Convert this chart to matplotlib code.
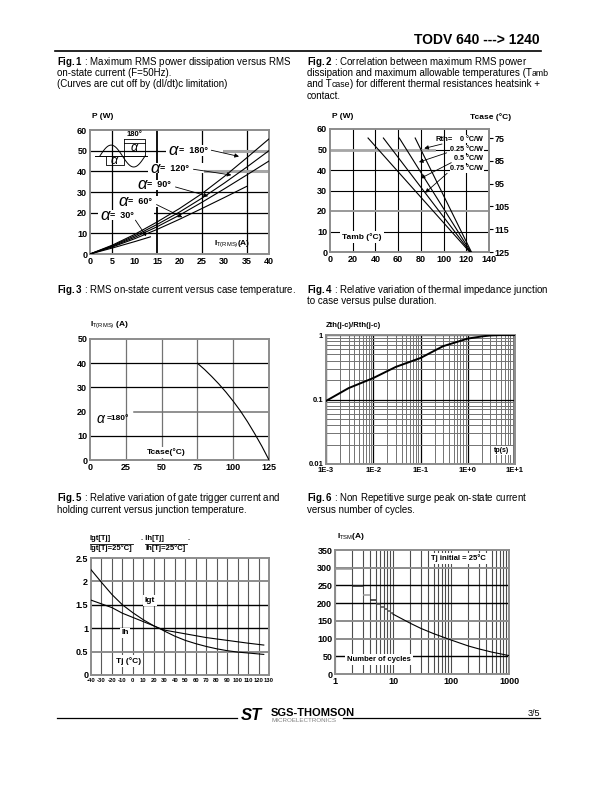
import numpy as np
import matplotlib
matplotlib.use('Agg')
import matplotlib.pyplot as plt
from matplotlib.lines import Line2D
from matplotlib.ticker import LogLocator, NullFormatter

plt.rcParams['font.family'] = ['Liberation Sans', 'DejaVu Sans']
plt.rcParams['mathtext.fontset'] = 'custom'
plt.rcParams['mathtext.rm'] = 'Liberation Sans'
plt.rcParams['mathtext.it'] = 'Liberation Sans:italic'
plt.rcParams['mathtext.bf'] = 'Liberation Sans:bold'

W, H = 612, 792

# Fig.1 : P (W) versus I T(RMS) (A)
i_rms = [0, 5, 10, 15, 20, 25, 30, 35, 40]
p_180 = [0, 4.3, 9.5, 15.5, 22.0, 29.2, 37.5, 46.5, 55.7]
p_120 = [0, 4.0, 8.8, 14.3, 20.3, 27.0, 34.3, 42.0, 50.0]
p_90 = [0, 3.7, 8.1, 13.2, 18.8, 25.0, 31.5, 38.2, 45.0]
i_60 = [0, 5, 10, 15, 20, 25, 30, 35]
p_60 = [0, 3.4, 7.4, 11.9, 16.8, 22.0, 27.3, 32.7]
i_30 = [0, 5, 10, 13.5]
p_30 = [0, 2.9, 6.0, 8.3]
alpha_labels = ['180°', '120°', '90°', '60°', '30°']

# Fig.2 : P (W) versus Tamb, lines for each Rth
rth_labels = ['0 °C/W', '0.25 °C/W', '0.5 °C/W', '0.75 °C/W']
tamb_top = [75, 61, 47, 33.5]
tamb_bottom = [124.5, 124, 123.5, 123]
p_top = 55.6
tcase_ticks = [75, 85, 95, 105, 115, 125]

# Fig.3 : I T(RMS) versus Tcase
tcase = [75, 80, 85, 90, 95, 100, 105, 110, 115, 120, 125]
it_case = [40, 37.4, 34.5, 31.4, 28.0, 24.3, 20.3, 15.8, 10.9, 5.7, 0]

# Fig.4 : Zth/Rth versus tp
tp = [1e-3, 3e-3, 1e-2, 3e-2, 1e-1, 0.3, 1, 2, 3, 5, 10]
zth = [0.095, 0.15, 0.215, 0.32, 0.44, 0.67, 0.88, 0.95, 0.985, 1.0, 1.0]

# Fig.5 : Igt and Ih relative to 25 C
tj = [-40, -30, -20, -10, 0, 10, 20, 25, 30, 40, 50, 60, 70, 80, 90, 100, 110, 125]
igt = [2.25, 1.98, 1.72, 1.50, 1.33, 1.18, 1.05, 1.0, 0.94, 0.83, 0.74, 0.67,
       0.61, 0.56, 0.52, 0.49, 0.47, 0.44]
ih = [1.6, 1.52, 1.44, 1.32, 1.23, 1.14, 1.05, 1.0, 0.96, 0.92, 0.88, 0.84,
      0.80, 0.77, 0.74, 0.71, 0.68, 0.64]

# Fig.6 : ITSM versus number of cycles
n_steps = [1, 2, 3, 4, 5, 6, 7, 8, 9]
itsm_steps = [295, 248, 224, 208, 198, 190, 183, 177, 172]
n_cycles = [10, 20, 30, 50, 100, 200, 300, 500, 1000]
itsm = [169, 143, 129, 114, 96, 79, 71, 62, 52]

fig = plt.figure(figsize=(6.12, 7.92), dpi=100)
renderer = fig.canvas.get_renderer()


def axes_px(x0, y0, x1, y1):
    return fig.add_axes([x0 / W, 1 - y1 / H, (x1 - x0) / W, (y1 - y0) / H])


def ftext(x, y, s, **kw):
    kw.setdefault('fontsize', 7)
    kw.setdefault('va', 'center')
    return fig.text(x / W, 1 - y / H, s, **kw)


def caption(x, y, s):
    # y is the text centre in the reference, drawn on its baseline
    ftext(x, y + 2.6, s, va='baseline')


def caption_parts(x, y, parts):
    # pieces drawn one after another; small ones are the T subscripts
    for s, size in parts:
        t = ftext(x, y + 2.6, s, va='baseline', fontsize=size)
        x = t.get_window_extent(renderer).x1 * W / fig.bbox.width


def fline(x0, x1, y, lw=1.0, color='black'):
    fig.add_artist(Line2D([x0 / W, x1 / W], [1 - y / H, 1 - y / H],
                          lw=lw, color=color))


def style(ax, xt, xl, yt, yl, size=6.5):
    for s in ax.spines.values():
        s.set_color('0.55')
        s.set_linewidth(1.4)
    ax.set_xticks(xt)
    ax.set_xticklabels(xl, fontsize=size, fontweight='bold')
    ax.set_yticks(yt)
    ax.set_yticklabels(yl, fontsize=size, fontweight='bold')
    ax.tick_params(which='both', length=0, pad=2)


def alpha_text(ax, x, y, s, size=12, small=6.5, gap=2.3):
    ax.text(x, y, r'$\alpha$', fontsize=size, va='center', zorder=5)
    ax.text(x + gap, y, s, fontsize=small, fontweight='bold', va='center', zorder=5)


# header
ftext(540, 40, 'TODV 640 ---> 1240', fontsize=10, fontweight='bold', ha='right')
fline(55, 541, 51, lw=1.2)

# captions
caption(57, 62, r'$\mathbf{Fig.1}$ : Maximum RMS power dissipation versus RMS')
caption(57, 73, 'on-state current (F=50Hz).')
caption(57, 84, '(Curves are cut off by (dI/dt)c limitation)')
caption(307, 62, r'$\mathbf{Fig.2}$ : Correlation between maximum RMS power')
caption_parts(307, 73, [('dissipation and maximum allowable temperatures (T', 7), ('amb', 6.3)])
caption_parts(307, 84, [('and T', 7), ('case', 6.3),
                        (') for different thermal resistances heatsink +', 7)])
caption(307, 96, 'contact.')
caption(57, 290, r'$\mathbf{Fig.3}$ : RMS on-state current versus case temperature.')
caption(307, 290, r'$\mathbf{Fig.4}$ : Relative variation of thermal impedance junction')
caption(307, 301, 'to case versus pulse duration.')
caption(57, 498, r'$\mathbf{Fig.5}$ : Relative variation of gate trigger current and')
caption(57, 510, 'holding current versus junction temperature.')
caption(307, 498, r'$\mathbf{Fig.6}$ : Non Repetitive surge peak on-state current')
caption(307, 510, 'versus number of cycles.')

# ---------------- Fig.1
ax1 = axes_px(90, 130, 269, 254)
ax1.set_xlim(0, 40)
ax1.set_ylim(0, 60)
for x in [5, 15, 25, 35]:
    ax1.axvline(x, color='black', lw=1.3 if x == 15 else 0.9, zorder=1)
for y in [10, 20, 30, 40, 50]:
    ax1.axhline(y, color='black', lw=0.9, zorder=1)
ax1.plot([26, 40], [50, 50], color='0.65', lw=2.2, zorder=1)
ax1.plot([22.5, 40], [40, 40], color='0.65', lw=2.2, zorder=1)
for xs, ys in [(i_rms, p_180), (i_rms, p_120), (i_rms, p_90), (i_60, p_60), (i_30, p_30)]:
    ax1.plot(xs, ys, color='black', lw=0.8, zorder=3)
lab_pos = [(17.5, 50), (13.4, 41.6), (10.4, 33.5), (6.3, 25.5), (2.2, 18.8)]
arr_from = [(26.5, 50.5), (22.5, 41.2), (18.5, 32.8), (14.3, 24.5), (9.8, 17.5)]
arr_to = [(33.9, 46.9), (32.2, 38.0), (27.0, 27.6), (21.2, 17.2), (12.9, 7.5)]
for lab, (x, y), a, b in zip(alpha_labels, lab_pos, arr_from, arr_to):
    ax1.text(x - 0.3, y, ' ' * 22, fontsize=6.5, va='center', zorder=4,
             bbox=dict(fc='white', ec='none', pad=0.5))
    alpha_text(ax1, x, y, '=  ' + lab)
    ax1.annotate('', xy=b, xytext=a, zorder=5,
                 arrowprops=dict(arrowstyle='-|>', lw=0.6, color='black',
                                 mutation_scale=6))
# waveform sketch (decoration)
ws = np.linspace(2.2, 12.3, 60)
ax1.plot(ws, 47.4 + 5.3 * np.sin((ws - 2.2) / 10.1 * 2 * np.pi), color='black', lw=0.7, zorder=4)
ax1.plot([1.1, 12.8], [47.4, 47.4], color='black', lw=0.7, zorder=4)
ax1.plot([3.5, 3.5, 7.7, 7.7], [47.4, 42.9, 42.9, 55.7], color='black', lw=0.6, zorder=4)
ax1.plot([7.7, 12.3, 12.3], [55.7, 55.7, 47.4], color='black', lw=0.6, zorder=4)
ax1.plot([7.7, 12.3], [53.6, 53.6], color='black', lw=0.6, zorder=4)
ax1.text(5.6, 45.0, r'$\alpha$', fontsize=9, ha='center', va='center', zorder=5)
ax1.text(10.0, 51.5, r'$\alpha$', fontsize=9, ha='center', va='center', zorder=5)
ax1.text(10.0, 57.8, '180°', fontsize=5.5, fontweight='bold', ha='center', va='center', zorder=5)
ax1.text(27.8, 5.2, r'I$_{\mathrm{T(RMS)}}$(A)', fontsize=6, fontweight='bold', va='center')
style(ax1, list(range(0, 41, 5)), [str(v) for v in range(0, 41, 5)],
      list(range(0, 61, 10)), [str(v) for v in range(0, 61, 10)])
ftext(92, 117, 'P (W)', fontsize=6, fontweight='bold')

# ---------------- Fig.2
ax2 = axes_px(330, 129, 489, 252)
ax2.set_xlim(0, 140)
ax2.set_ylim(0, 60)
for x in [20, 40, 60, 80, 100, 120]:
    ax2.axvline(x, color='black', lw=0.8, zorder=1)
for y in [10, 20, 30, 40, 50]:
    ax2.axhline(y, color='0.6' if y == 20 else 'black', lw=1.4 if y == 20 else 0.8, zorder=1)
ax2.plot([0, 92], [50, 50], color='0.65', lw=2.0, zorder=1)
for a, b in zip(tamb_top, tamb_bottom):
    ax2.plot([a, b], [p_top, 0], color='black', lw=0.8, zorder=3)
ax2.text(93, 55.1, 'Rth=', fontsize=5.5, fontweight='bold', va='center', zorder=5)
lab_y = [55.1, 50.2, 45.4, 40.5]
arr_from2 = [(101, 53), (105, 48.8), (109, 44.2), (105, 39.3)]
arr_to2 = [(80.6, 50.2), (76, 43.4), (77.6, 35.3), (82, 28)]
for lab, y, a, b in zip(rth_labels, lab_y, arr_from2, arr_to2):
    ax2.text(135, y, lab, fontsize=5.2, fontweight='bold', ha='right', va='center', zorder=5,
             bbox=dict(fc='white', ec='none', pad=0.3))
    ax2.annotate('', xy=b, xytext=a, zorder=5,
                 arrowprops=dict(arrowstyle='-|>', lw=0.6, color='black', mutation_scale=6))
ax2.text(11, 7.2, 'Tamb (°C)', fontsize=6, fontweight='bold', va='center', zorder=5,
         bbox=dict(fc='white', ec='none', pad=1.5))
style(ax2, list(range(0, 141, 20)), [str(v) for v in range(0, 141, 20)],
      list(range(0, 61, 10)), [str(v) for v in range(0, 61, 10)])
sec = ax2.secondary_yaxis('right', functions=(lambda p: 125 - p * 0.9,
                                              lambda t: (125 - t) / 0.9))
sec.set_yticks(tcase_ticks)
sec.set_yticklabels([str(v) for v in tcase_ticks], fontsize=6.5, fontweight='bold')
sec.tick_params(length=3, width=0.8, direction='out', pad=1)
sec.spines['right'].set_color('0.55')
sec.spines['right'].set_linewidth(1.4)
ftext(332, 117, 'P (W)', fontsize=6, fontweight='bold')
ftext(470, 117, 'Tcase (°C)', fontsize=6, fontweight='bold')

# ---------------- Fig.3
ax3 = axes_px(90, 339, 269, 460)
ax3.set_xlim(0, 125)
ax3.set_ylim(0, 50)
for x in [25, 50, 75, 100]:
    ax3.axvline(x, color='0.45', lw=0.9, zorder=1)
for y in [10, 30, 40]:
    ax3.axhline(y, color='black', lw=0.9, zorder=1)
ax3.plot([31, 125], [20, 20], color='0.45', lw=1.1, zorder=1)
ax3.plot(tcase, it_case, color='black', lw=0.8, zorder=3)
alpha_text(ax3, 4.0, 17, '=180°', size=10, small=6, gap=7.5)
ax3.text(39.5, 3.2, 'Tcase(°C)', fontsize=6, fontweight='bold', va='center', zorder=5,
         bbox=dict(fc='white', ec='none', pad=1.0))
style(ax3, [0, 25, 50, 75, 100, 125], ['0', '25', '50', '75', '100', '125'],
      list(range(0, 51, 10)), [str(v) for v in range(0, 51, 10)])
ftext(90, 325, r'I$_{\mathrm{T(RMS)}}$ (A)', fontsize=6, fontweight='bold')

# ---------------- Fig.4
ax4 = axes_px(326, 335, 515, 464)
ax4.set_xscale('log')
ax4.set_yscale('log')
ax4.set_xlim(1e-3, 10)
ax4.set_ylim(0.01, 1)
ax4.xaxis.set_minor_locator(LogLocator(base=10, subs=np.arange(2, 10)))
ax4.yaxis.set_minor_locator(LogLocator(base=10, subs=np.arange(2, 10)))
ax4.xaxis.set_minor_formatter(NullFormatter())
ax4.yaxis.set_minor_formatter(NullFormatter())
ax4.grid(which='minor', color='0.45', lw=0.7, zorder=1)
ax4.grid(which='major', color='black', lw=0.9, zorder=1)
ax4.set_axisbelow(True)
ax4.plot(tp, zth, color='black', lw=1.4, zorder=3)
ax4.text(5.3, 0.016, 'tp(s)', fontsize=5, fontweight='bold', ha='center', va='center', zorder=5,
         bbox=dict(fc='white', ec='none', pad=0.8))
style(ax4, [1e-3, 1e-2, 1e-1, 1, 10], ['1E-3', '1E-2', '1E-1', '1E+0', '1E+1'],
      [0.01, 0.1, 1], ['0.01', '0.1', '1'], size=5.5)
ftext(326, 326, 'Zth(j-c)/Rth(j-c)', fontsize=5.5, fontweight='bold')

# ---------------- Fig.5
ax5 = axes_px(91, 558, 269, 675)
ax5.set_xlim(-40, 130)
ax5.set_ylim(0, 2.5)
for x in range(-30, 130, 10):
    ax5.axvline(x, color='0.35', lw=0.8, zorder=1)
for y, c in [(0.5, '0.55'), (1.0, 'black'), (1.5, 'black'), (2.0, '0.55')]:
    ax5.axhline(y, color=c, lw=1.0 if c == 'black' else 1.4, zorder=1)
ax5.plot(tj, igt, color='black', lw=0.8, zorder=3)
ax5.plot(tj, ih, color='black', lw=0.8, zorder=3)
ax5.text(16.5, 1.6, 'Igt', fontsize=6, fontweight='bold', ha='center', va='center', zorder=5,
         bbox=dict(fc='white', ec='none', pad=1.5))
ax5.text(-7.3, 0.9, 'Ih', fontsize=6, fontweight='bold', ha='center', va='center', zorder=5,
         bbox=dict(fc='white', ec='none', pad=1.0))
ax5.text(-4, 0.29, 'Tj (°C)', fontsize=6, fontweight='bold', ha='center', va='center', zorder=5,
         bbox=dict(fc='white', ec='none', pad=1.5))
style(ax5, list(range(-40, 131, 10)), [str(v) for v in range(-40, 131, 10)],
      [0, 0.5, 1, 1.5, 2, 2.5], ['0', '0.5', '1', '1.5', '2', '2.5'])
for lab in ax5.get_xticklabels():
    lab.set_fontsize(4.2)
ftext(90, 539, 'Igt[Tj]', fontsize=5.5, fontweight='bold')
fline(90, 133, 543.5, lw=0.6)
ftext(90, 548, 'Igt[Tj=25°C]', fontsize=5.5, fontweight='bold')
ftext(141, 539, '. Ih[Tj]', fontsize=5.5, fontweight='bold')
ftext(187, 539, '.', fontsize=5.5, fontweight='bold')
fline(145, 187, 543.5, lw=0.6)
ftext(145, 548, 'Ih[Tj=25°C]', fontsize=5.5, fontweight='bold')

# ---------------- Fig.6
ax6 = axes_px(335, 550, 509, 674)
ax6.set_xscale('log')
ax6.set_xlim(1, 1000)
ax6.set_ylim(0, 350)
ax6.xaxis.set_minor_locator(LogLocator(base=10, subs=np.arange(2, 10)))
ax6.xaxis.set_minor_formatter(NullFormatter())
ax6.grid(which='both', axis='x', color='0.3', lw=0.8, zorder=1)
for y, c in [(50, 'black'), (100, '0.55'), (150, '0.55'), (200, 'black'),
             (250, 'black'), (300, '0.55')]:
    ax6.axhline(y, color=c, lw=1.0 if c == 'black' else 1.4, zorder=1)
ax6.set_axisbelow(True)
ax6.hlines(itsm_steps, n_steps, [n + 1 for n in n_steps],
           colors=['0.6', '0.15', '0.6', '0.15', '0.3', '0.3', '0.3', '0.3', '0.3'],
           lw=1.1, zorder=3)
ax6.plot(n_cycles, itsm, color='black', lw=0.8, zorder=3)
ax6.text(46, 326, 'Tj initial = 25°C', fontsize=5.5, fontweight='bold', va='center', zorder=5,
         bbox=dict(fc='white', ec='none', pad=1.2))
ax6.text(1.62, 40, 'Number of cycles', fontsize=5.5, fontweight='bold', va='center', zorder=5,
         bbox=dict(fc='white', ec='none', pad=1.5))
style(ax6, [1, 10, 100, 1000], ['1', '10', '100', '1000'],
      list(range(0, 351, 50)), [str(v) for v in range(0, 351, 50)])
ftext(337, 537, r'I$_{\mathrm{TSM}}$(A)', fontsize=6, fontweight='bold')

# footer
fline(57, 237, 718, lw=0.9)
fline(343, 540, 718, lw=0.9)
ftext(241, 716, 'ST', fontsize=12, fontweight='bold', style='italic')
ftext(271, 713, 'SGS-THOMSON', fontsize=8, fontweight='bold')
ftext(271, 721, 'MICROELECTRONICS', fontsize=4.5, color='0.5')
ftext(540, 713, '3/5', fontsize=6.5, ha='right')

fig.savefig('out.png', dpi=100)
